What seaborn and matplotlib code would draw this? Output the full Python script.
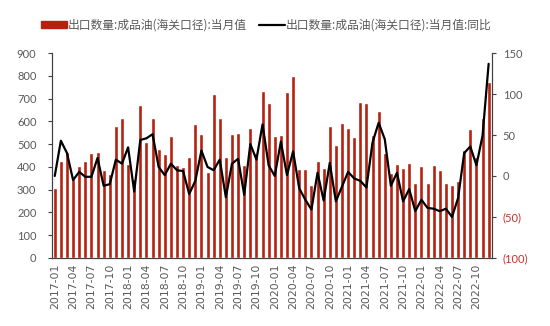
import numpy as np
import pandas as pd
import matplotlib
matplotlib.use("Agg")
import matplotlib.pyplot as plt
import seaborn as sns
from matplotlib.patches import Patch
from matplotlib.lines import Line2D

months = pd.date_range("2017-01-01", periods=72, freq="MS").strftime("%Y-%m").tolist()

export_volume = [306, 428, 465, 347, 404, 424, 459, 464, 386, 367, 579, 617,
                 413, 346, 670, 511, 613, 478, 457, 536, 408, 401, 445, 587,
                 544, 379, 719, 616, 445, 544, 547, 408, 569, 460, 733, 680,
                 536, 540, 729, 800, 389, 389, 320, 427, 394, 578, 496, 592,
                 569, 530, 686, 681, 540, 646, 462, 372, 413, 394, 418, 328,
                 404, 328, 408, 386, 328, 319, 339, 474, 565, 445, 613, 774]

export_yoy = [0, 43, 28, -5, 5, -1, -1, 22, -12, -10, 20, 15,
              35, -19, 44, 46, 51, 11, 1, 15, 7, 6, -22, -6,
              31, 11, 7, 20, -26, 15, 21, -23, 39, 20, 63, 13,
              0, 42, 1, 30, -15, -29, -41, 4, -30, 16, -31, -13,
              5, -3, -6, -14, 41, 65, 45, -12, 4, -31, -16, -43,
              -29, -39, -40, -43, -40, -50, -27, 28, 36, 13, 49, 137]

bar_label = "出口数量:成品油(海关口径):当月值"
line_label = "出口数量:成品油(海关口径):当月值:同比"

left_ticks = list(range(0, 901, 100))
right_ticks = [-100, -50, 0, 50, 100, 150]
right_tick_labels = ["(100)", "(50)", "0", "50", "100", "150"]

sns.set_style("white")
plt.rcParams["font.family"] = ["Noto Sans CJK SC", "DejaVu Sans"]

BAR = "#B5200F"
GRAY = "#595959"
NEG = "#C8322D"
SPINE = "#404040"

fig = plt.figure(figsize=(5.5, 3.26), dpi=100)
ax = fig.add_axes([0.094, 0.209, 0.800, 0.628])

df = pd.DataFrame({"month": months, "value": export_volume})
sns.barplot(data=df, x="month", y="value", ax=ax, color=BAR, width=0.66,
            saturation=1, order=months)
ax.set_xlim(-0.5, len(months) - 0.5)
ax.set_ylim(0, 900)
ax.set_yticks(left_ticks)
ax.set_yticklabels([str(t) for t in left_ticks], fontfamily="Lato", fontsize=8, color=GRAY)
ax.set_xlabel("")
ax.set_ylabel("")

pos = np.arange(len(months))
lbl_idx = [i for i in range(len(months)) if i % 3 == 0]
ax.set_xticks(pos[lbl_idx])
ax.set_xticklabels([months[i] for i in lbl_idx], rotation=90, fontfamily="DejaVu Sans",
                   fontsize=7.8, color=GRAY)
ax.tick_params(axis="x", which="major", length=0, pad=4)
ax.set_xticks(pos[lbl_idx] - 0.5, minor=True)
ax.tick_params(axis="x", which="minor", length=3, color=SPINE, width=0.8, direction="out")
ax.tick_params(axis="y", length=3, color=SPINE, width=0.8, direction="out", pad=8)

ax2 = ax.twinx()
sns.lineplot(x=pos, y=export_yoy, ax=ax2, color="black", linewidth=1.6)
ax2.set_ylim(-100, 150)
ax2.set_yticks(right_ticks)
ax2.set_yticklabels(right_tick_labels, fontfamily="Lato", fontsize=8)
for t, v in zip(ax2.get_yticklabels(), right_ticks):
    t.set_color(NEG if v < 0 else GRAY)
ax2.tick_params(axis="y", length=3, color=SPINE, width=0.8, direction="out", pad=5)
ax2.set_xlim(-0.5, len(months) - 0.5)

for a in (ax, ax2):
    a.spines["top"].set_visible(False)
    for s in ("left", "right", "bottom"):
        a.spines[s].set_color(SPINE)
        a.spines[s].set_linewidth(0.8)
    a.grid(False)

handles = [Patch(facecolor=BAR, edgecolor=BAR),
           Line2D([0], [0], color="black", linewidth=1.6)]
fig.legend(handles, [bar_label, line_label], loc="center", ncol=2,
           bbox_to_anchor=(0.484, 0.923), frameon=False, fontsize=8.5,
           labelcolor=GRAY, handlelength=2.2, handleheight=0.6,
           handletextpad=0.1, columnspacing=1.0)

fig.savefig("out.png", dpi=100)
